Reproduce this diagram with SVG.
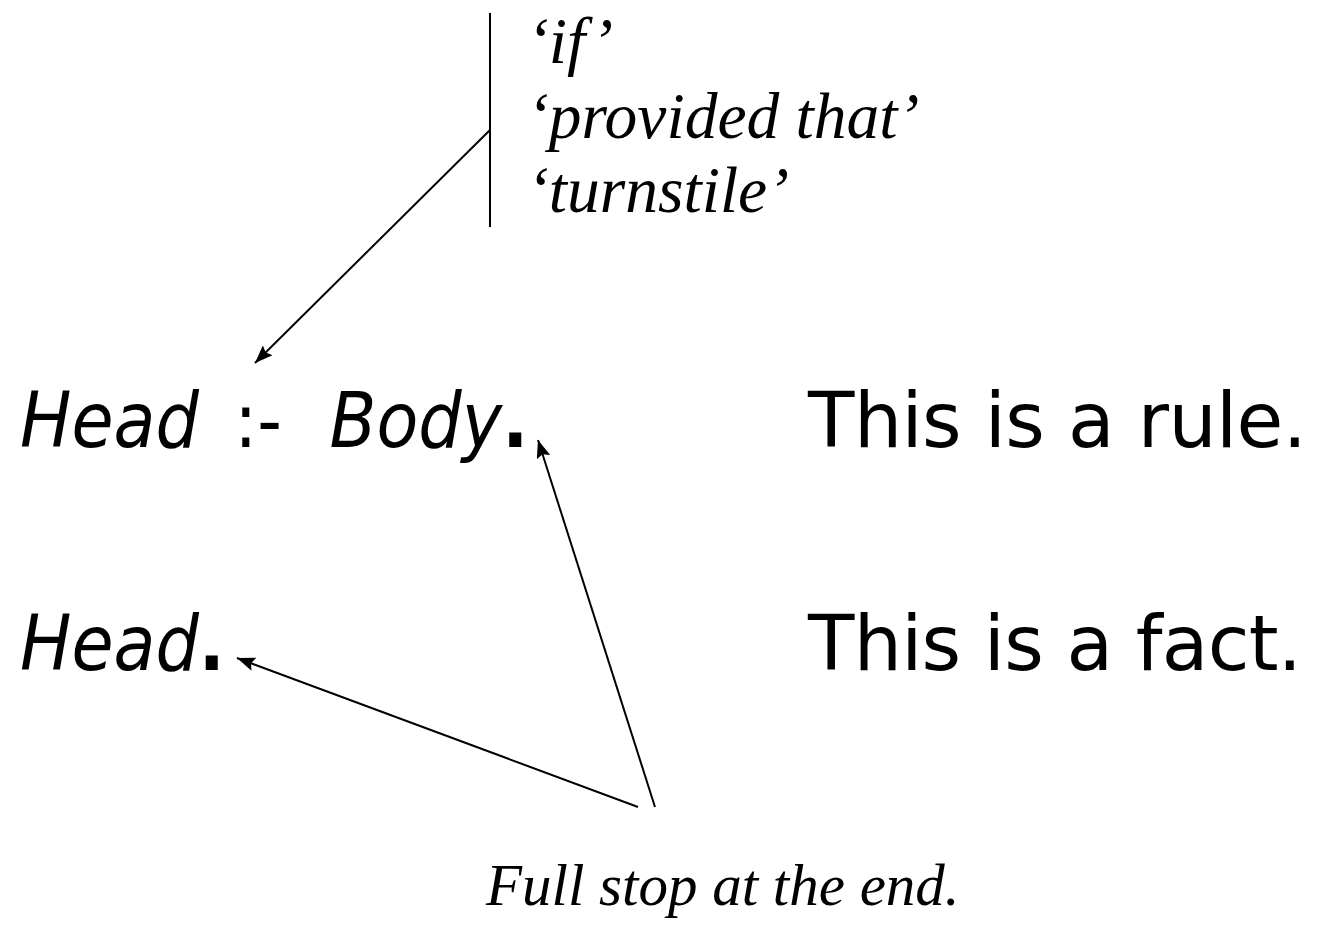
<svg xmlns="http://www.w3.org/2000/svg" width="1324" height="939" viewBox="0 0 1324 939">
<style>
.sans{font-family:"DejaVu Sans",Verdana,sans-serif;font-size:76px;fill:#000}
.it{font-style:italic}
.up{font-style:normal}
.dot{font-style:normal;font-weight:bold}
.serif{font-family:"Liberation Serif","Times New Roman",serif;font-style:italic;font-size:65.5px;fill:#000}
.note{font-size:59px}
.ln{stroke:#000;stroke-width:2;fill:none}
</style>
<defs>
<marker id="ah" viewBox="0 0 18 14" refX="18" refY="7" markerWidth="18" markerHeight="14" markerUnits="userSpaceOnUse" orient="auto">
<path d="M0,0 L18,7 L0,14 L3,7 z" fill="#000"/>
</marker>
</defs>
<rect width="1324" height="939" fill="#fff"/>
<g id="if-labels">
<line class="ln" x1="490" y1="13" x2="490" y2="227"/>
<text class="serif" x="527" y="63">‘if’</text>
<text class="serif" x="527" y="138">‘provided that’</text>
<text class="serif" x="527" y="212">‘turnstile’</text>
</g>
<g id="rule">
<text class="sans it" transform="translate(20,447) scale(0.9,1)"><tspan x="0" y="0">Head</tspan><tspan class="up" x="238">:-</tspan><tspan x="344">Body</tspan><tspan class="dot">.</tspan></text>
</g>
<g id="rule-desc"><text class="sans" x="808" y="447" textLength="499" lengthAdjust="spacing">This is a rule.</text></g>
<g id="fact"><text class="sans it" transform="translate(20,670) scale(0.9,1)"><tspan x="0" y="0">Head</tspan><tspan class="dot">.</tspan></text></g>
<g id="fact-desc"><text class="sans" x="808" y="670" textLength="494" lengthAdjust="spacing">This is a fact.</text></g>
<g id="fullstop"><text class="serif note" x="486" y="905">Full stop at the end.</text></g>
<g id="connectors">
<line class="ln" x1="490" y1="130" x2="255" y2="363" marker-end="url(#ah)"/>
<line class="ln" x1="655" y1="807" x2="538" y2="440" marker-end="url(#ah)"/>
<line class="ln" x1="638" y1="807" x2="237" y2="658" marker-end="url(#ah)"/>
</g>
</svg>
